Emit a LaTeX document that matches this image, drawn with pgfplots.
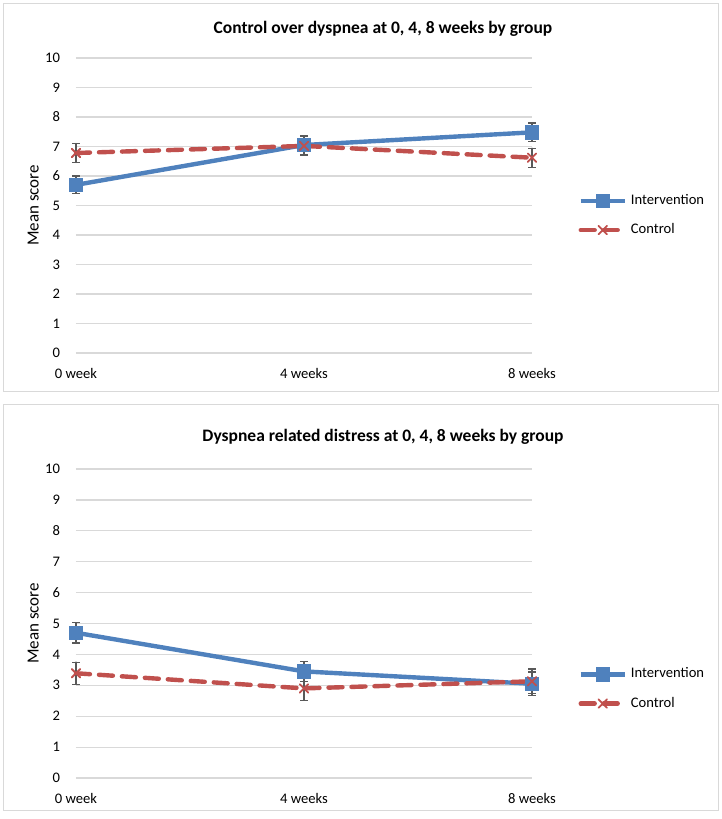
\documentclass[border=0pt]{standalone}
\usepackage{fontspec}
\setmainfont{Carlito}
\usepackage{pgfplots}
\pgfplotsset{compat=1.18}
\definecolor{ivblue}{HTML}{4F81BD}
\definecolor{ctred}{HTML}{C0504D}
\definecolor{gridgray}{HTML}{D9D9D9}
\definecolor{errgray}{HTML}{595959}
\newcommand{\tkfont}{\fontsize{7.3}{8.5}\selectfont}

\pgfplotsset{
  dysp/.style={
    scale only axis, width=228pt,
    xmin=0, xmax=2, ymin=0, ymax=10,
    xtick={0,1,2}, xticklabels={0 week,4 weeks,8 weeks},
    ytick={0,1,...,10},
    axis line style={draw=none}, major tick length=0pt,
    ymajorgrids, grid style={gridgray, line width=0.6pt},
    tick label style={font=\tkfont, /pgf/number format/assume math mode=true},
    xticklabel style={yshift=-4pt},
    yticklabel style={xshift=-4.5pt},
    ylabel={Mean score},
    ylabel style={font=\fontsize{8.5}{10}\selectfont, at={(axis description cs:-0.094,0.5)}, anchor=center},
    clip=false,
    legend cell align=left,
    legend style={draw=none, fill=none, font=\tkfont, anchor=west, row sep=4pt},
    legend image code/.code={\draw[mark repeat=2, mark phase=2, #1] plot coordinates {(0pt,0pt) (11pt,0pt) (22pt,0pt)};},
  },
  ivplot/.style={ivblue, line width=2.2pt, mark=square*, mark size=2.5pt, mark options={solid},
    error bars/.cd, y dir=both, y explicit, error mark=|,
    error bar style={errgray, line width=0.6pt, solid},
    error mark options={errgray, line width=0.6pt, mark size=1.8pt}},
  ctplot/.style={ctred, line width=2.2pt, dash pattern=on 7pt off 4.5pt, line cap=round,
    mark=x, mark size=3pt, mark options={solid, line width=0.9pt},
    error bars/.cd, y dir=both, y explicit, error mark=|,
    error bar style={errgray, line width=0.6pt, solid},
    error mark options={errgray, line width=0.6pt, mark size=1.8pt}},
}

\begin{document}
\begin{tikzpicture}
\path (0pt,0pt) rectangle (361pt,-409.5pt);
\draw[gridgray, line width=0.5pt] (1.5pt,-1.5pt) rectangle (359pt,-195.5pt);
\draw[gridgray, line width=0.5pt] (1.5pt,-202pt) rectangle (359pt,-405pt);

\node[font=\fontsize{8.75}{10}\selectfont\bfseries] at (191.5pt,-14.5pt) {Control over dyspnea at 0, 4, 8 weeks by group};
\node[font=\fontsize{8.75}{10}\selectfont\bfseries] at (191.5pt,-218.5pt) {Dyspnea related distress at 0, 4, 8 weeks by group};

\begin{axis}[dysp, height=147.5pt, at={(38pt,-176.5pt)}, anchor=south west,
  legend style={at={(1.088,0.466)}}]
\addplot[ivplot] coordinates {(0,5.70) +- (0,0.30) (1,7.05) +- (0,0.32) (2,7.48) +- (0,0.32)};
\addlegendentry{Intervention}
\addplot[ctplot] coordinates {(0,6.78) +- (0,0.32) (1,7.02) +- (0,0.32) (2,6.62) +- (0,0.32)};
\addlegendentry{Control}
\end{axis}

\begin{axis}[dysp, height=154.5pt, at={(38pt,-389pt)}, anchor=south west,
  legend style={at={(1.088,0.288)}}]
\addplot[ivplot] coordinates {(0,4.70) +- (0,0.33) (1,3.45) +- (0,0.33) (2,3.05) +- (0,0.38)};
\addlegendentry{Intervention}
\addplot[ctplot] coordinates {(0,3.39) +- (0,0.36) (1,2.90) +- (0,0.38) (2,3.13) +- (0,0.40)};
\addlegendentry{Control}
\end{axis}
\end{tikzpicture}
\end{document}
